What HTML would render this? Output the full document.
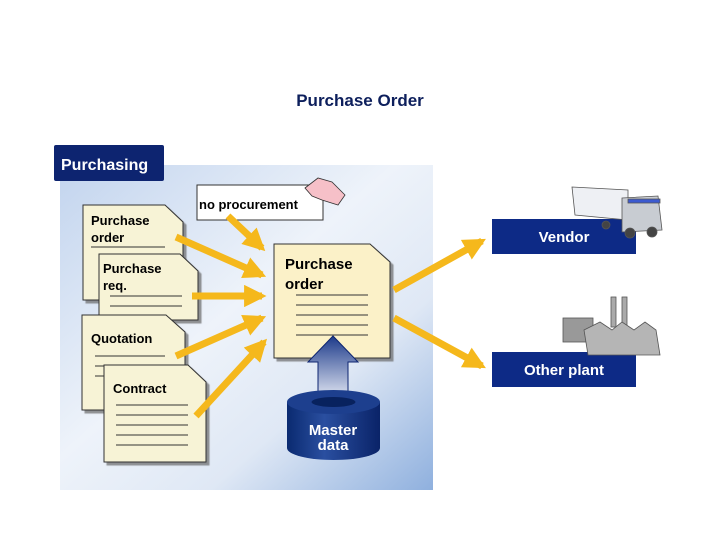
<!DOCTYPE html>
<html><head><meta charset="utf-8"><style>
html,body{margin:0;padding:0;background:#fff;}
svg text{font-family:"Liberation Sans",sans-serif;font-weight:bold;}
</style></head><body>
<svg width="720" height="540" viewBox="0 0 720 540" xmlns="http://www.w3.org/2000/svg">
<defs>
<linearGradient id="bg" x1="0" y1="0" x2="1" y2="1">
<stop offset="0" stop-color="#c2d4ee"/><stop offset="0.45" stop-color="#eef3fa"/><stop offset="0.7" stop-color="#dfe8f5"/><stop offset="1" stop-color="#8fb0de"/>
</linearGradient>
<linearGradient id="cyl" x1="0" y1="0" x2="1" y2="0">
<stop offset="0" stop-color="#0a2a70"/><stop offset="0.4" stop-color="#2a4fa0"/><stop offset="1" stop-color="#0a2368"/>
</linearGradient>
<linearGradient id="up" x1="0" y1="1" x2="0" y2="0">
<stop offset="0" stop-color="#e8ecf6"/><stop offset="1" stop-color="#1c3a8a"/>
</linearGradient>
<marker id="ah" viewBox="0 0 10 10" refX="8" refY="5" markerWidth="3.2" markerHeight="3.2" orient="auto">
<path d="M0,0 L10,5 L0,10 Z" fill="#f5b81c"/>
</marker>
<filter id="sh"><feDropShadow dx="3" dy="3" stdDeviation="0.5" flood-color="#666" flood-opacity="0.7"/></filter>
</defs>
<text x="360" y="106" font-size="17" fill="#0d1f5c" text-anchor="middle">Purchase Order</text>
<rect x="60" y="165" width="373" height="325" fill="url(#bg)"/>
<rect x="54" y="145" width="110" height="36" fill="#0d2470" rx="2"/>
<text x="61" y="170" font-size="16" fill="#fff">Purchasing</text>

<g filter="url(#sh)" stroke="#333" stroke-width="1" fill="#f7f3d6">
<path d="M83,205 H165 L183,222 V300 H83 Z"/>
</g>
<text x="91" y="225" font-size="13">Purchase</text><text x="91" y="242" font-size="13">order</text>
<g stroke="#333"><line x1="91" y1="247" x2="165" y2="247"/></g>
<g filter="url(#sh)" stroke="#333" stroke-width="1" fill="#f7f3d6">
<path d="M99,254 H180 L198,271 V320 H99 Z"/>
</g>
<text x="103" y="273" font-size="13">Purchase</text><text x="103" y="290" font-size="13">req.</text>
<g stroke="#333"><line x1="110" y1="296" x2="182" y2="296"/><line x1="110" y1="306" x2="182" y2="306"/></g>
<g filter="url(#sh)" stroke="#333" stroke-width="1" fill="#f7f3d6">
<path d="M82,315 H166 L185,332 V410 H82 Z"/>
</g>
<text x="91" y="343" font-size="13">Quotation</text>
<g stroke="#333"><line x1="95" y1="356" x2="165" y2="356"/><line x1="95" y1="366" x2="165" y2="366"/><line x1="95" y1="376" x2="165" y2="376"/></g>
<g filter="url(#sh)" stroke="#333" stroke-width="1" fill="#f7f3d6">
<path d="M104,365 H188 L206,382 V462 H104 Z"/>
</g>
<text x="113" y="393" font-size="13">Contract</text>
<g stroke="#333"><line x1="116" y1="405" x2="188" y2="405"/><line x1="116" y1="415" x2="188" y2="415"/><line x1="116" y1="425" x2="188" y2="425"/><line x1="116" y1="435" x2="188" y2="435"/><line x1="116" y1="445" x2="188" y2="445"/></g>

<g filter="url(#sh)" stroke="#333" stroke-width="1" fill="#fbf1c8">
<path d="M274,244 H370 L390,262 V358 H274 Z"/>
</g>
<text x="285" y="269" font-size="15">Purchase</text><text x="285" y="289" font-size="15">order</text>
<g stroke="#333"><line x1="296" y1="295" x2="368" y2="295"/><line x1="296" y1="305" x2="368" y2="305"/><line x1="296" y1="315" x2="368" y2="315"/><line x1="296" y1="325" x2="368" y2="325"/><line x1="296" y1="335" x2="368" y2="335"/></g>

<rect x="197" y="185" width="126" height="35" fill="#fff" stroke="#333"/>
<text x="199" y="209" font-size="13">no procurement</text>
<path d="M305,188 L318,178 L332,182 L345,195 L338,205 L322,200 L312,196 Z" fill="#f6c0c8" stroke="#333" stroke-width="0.8"/>

<g stroke="#f5b81c" stroke-width="7" fill="none" marker-end="url(#ah)">
<line x1="176" y1="237" x2="262" y2="275"/>
<line x1="228" y1="216" x2="262" y2="248"/>
<line x1="192" y1="296" x2="262" y2="296"/>
<line x1="176" y1="356" x2="262" y2="318"/>
<line x1="196" y1="416" x2="264" y2="342"/>
<line x1="394" y1="290" x2="482" y2="241"/>
<line x1="394" y1="318" x2="482" y2="366"/>
</g>

<path d="M318,400 V362 H308 L333,336 L358,362 H348 V400 Z" fill="url(#up)" stroke="#0d2470" stroke-width="1"/>
<path d="M287,402 V448 A46.5,12 0 0 0 380,448 V402 Z" fill="url(#cyl)"/>
<ellipse cx="333.5" cy="402" rx="46.5" ry="12" fill="#1d3f8e"/>
<ellipse cx="333.5" cy="402" rx="22" ry="5" fill="#08225e"/>
<text x="333" y="435" font-size="15" fill="#fff" text-anchor="middle">Master</text>
<text x="333" y="450" font-size="15" fill="#fff" text-anchor="middle">data</text>

<rect x="492" y="219" width="144" height="35" fill="#0d2a86"/>
<text x="564" y="242" font-size="15" fill="#fff" text-anchor="middle">Vendor</text>
<rect x="492" y="352" width="144" height="35" fill="#0d2a86"/>
<text x="564" y="375" font-size="15" fill="#fff" text-anchor="middle">Other plant</text>

<g stroke="#555" stroke-width="0.8">
<path d="M572,187 L628,190 L628,220 L575,215 Z" fill="#eef0f4"/>
<path d="M622,198 L658,196 L662,230 L622,232 Z" fill="#c8ccd2"/>
<rect x="628" y="199" width="32" height="4" fill="#3c5ad0"/>
<circle cx="630" cy="233" r="5" fill="#444"/><circle cx="652" cy="232" r="5" fill="#444"/><circle cx="606" cy="225" r="4" fill="#444"/>
<rect x="563" y="318" width="30" height="24" fill="#999"/>
<rect x="611" y="297" width="5" height="30" fill="#aaa"/><rect x="622" y="297" width="5" height="30" fill="#aaa"/>
<path d="M584,330 L600,322 L612,330 L622,322 L634,330 L645,322 L656,330 L660,355 L588,355 Z" fill="#b5b5b5"/>
</g>
</svg>
</body></html>
